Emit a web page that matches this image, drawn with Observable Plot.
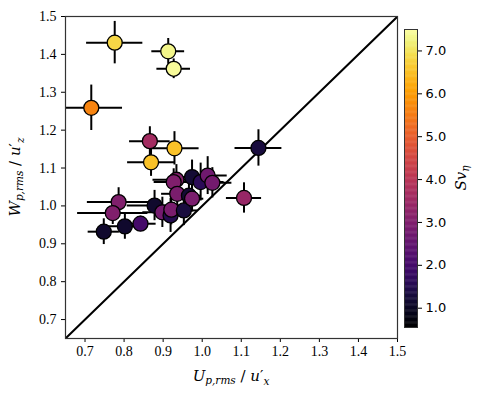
<!DOCTYPE html>
<html><head><meta charset="utf-8">
<script src="https://cdn.jsdelivr.net/npm/d3@7"></script>
<script src="https://cdn.jsdelivr.net/npm/@observablehq/plot@0.6"></script>
<style>
body{margin:0;background:#fff;}
#wrap{position:relative;width:485px;height:399px;}
#wrap svg{position:absolute;top:0;left:0;overflow:visible;}
</style></head><body><div id="wrap"></div>
<script>
const xVals = [0.776,0.913,0.927,0.716,0.866,0.929,0.869,1.144,1.107,0.786,0.771,0.748,0.802,0.842,0.878,0.898,0.919,0.921,0.953,0.934,0.927,0.936,0.974,0.996,1.014,1.026,0.966,0.974];
const yVals = [1.431,1.408,1.362,1.259,1.171,1.152,1.115,1.153,1.021,1.010,0.981,0.932,0.946,0.953,1.001,0.983,0.975,0.990,0.988,1.069,1.063,1.032,1.076,1.063,1.080,1.061,1.027,1.019];
const xErr  = [0.072,0.042,0.043,0.080,0.052,0.063,0.060,0.060,0.045,0.080,0.090,0.040,0.050,0.040,0.070,0.050,0.040,0.040,0.035,0.060,0.050,0.040,0.050,0.060,0.050,0.050,0.030,0.030];
const yErr  = [0.056,0.034,0.026,0.060,0.038,0.044,0.037,0.048,0.040,0.038,0.030,0.034,0.034,0.020,0.040,0.040,0.045,0.040,0.040,0.040,0.035,0.040,0.045,0.050,0.050,0.040,0.040,0.035];
const svVals = [6.8,7.3,7.4,5.6,3.6,6.5,6.5,1.3,3.4,3.0,3.0,1.1,1.1,2.0,1.1,2.8,1.5,2.9,1.3,3.1,3.0,2.9,1.2,1.6,2.7,2.8,1.2,2.9];

const axisDomain = [0.65, 1.5];
const diagonal = [0.65, 1.5];
const xTicks = [0.7,0.8,0.9,1.0,1.1,1.2,1.3,1.4,1.5];
const yTicks = [0.7,0.8,0.9,1.0,1.1,1.2,1.3,1.4,1.5];
const colorDomain = [0.55, 7.5];
const cbTicks = [1,2,3,4,5,6,7];

const data = xVals.map((x,i)=>({x, y:yVals[i], xe:xErr[i], ye:yErr[i], sv:svVals[i]}));
const color = {type:"linear", scheme:"inferno", domain: colorDomain};

const main = Plot.plot({
  width:485, height:399, marginLeft:65, marginRight:88, marginTop:16, marginBottom:61,
  style:{fontSize:"14px", background:"transparent", color:"#000"},
  x:{domain:axisDomain, ticks:xTicks, tickFormat:".1f", label:null, tickSize:4, tickPadding:4},
  y:{domain:axisDomain, ticks:yTicks, tickFormat:".1f", label:null, tickSize:4, tickPadding:5},
  color,
  marks:[
    Plot.line(diagonal, {x:d=>d, y:d=>d, stroke:"black", strokeWidth:2, clip:true}),
    Plot.ruleY(data, {y:"y", x1:d=>d.x-d.xe, x2:d=>d.x+d.xe, stroke:"black", strokeWidth:2, clip:true}),
    Plot.ruleX(data, {x:"x", y1:d=>d.y-d.ye, y2:d=>d.y+d.ye, stroke:"black", strokeWidth:2, clip:true}),
    Plot.dot(data, {x:"x", y:"y", r:7.5, fill:"sv", stroke:"black", strokeWidth:1.3}),
    Plot.frame({stroke:"#333", strokeWidth:1.2})
  ]
});

const bands = d3.range(colorDomain[0], colorDomain[1], 0.02);
const cb = Plot.plot({
  width:85, height:399, marginLeft:4, marginRight:68, marginTop:29, marginBottom:72,
  style:{fontSize:"13px", background:"transparent", color:"#000"},
  x:{domain:[0,1], axis:null},
  y:{domain:colorDomain, axis:"right", ticks:cbTicks, tickFormat:".1f", label:null, tickSize:4, tickPadding:4},
  color,
  marks:[
    Plot.rect(bands, {x1:()=>0, x2:()=>1, y1:d=>d, y2:d=>Math.min(d+0.03, colorDomain[1]), fill:d=>d}),
    Plot.frame({stroke:"#333", strokeWidth:1})
  ]
});
cb.style.left = "400px";

const wrap = document.getElementById("wrap");
wrap.appendChild(main);
wrap.appendChild(cb);

// tick-label fonts: serif (LaTeX-like) on the main axes, sans on the colorbar
d3.select(main).selectAll("text").style("font-family", "'Liberation Serif', serif").style("font-size", "14px");
d3.select(cb).selectAll("text").style("font-family", "'DejaVu Sans', sans-serif").style("font-size", "13px");

function mathLabel(svg, x, y, rot, parts, size) {
  const t = d3.select(svg).append("text")
    .attr("transform", `translate(${x},${y}) rotate(${rot})`)
    .attr("text-anchor", "middle")
    .style("font-family", "'DejaVu Serif', serif")
    .style("font-size", size + "px")
    .attr("fill", "#000");
  parts.forEach(p => {
    t.append("tspan").text(p.t)
      .style("font-style", p.i ? "italic" : "normal")
      .style("font-size", (p.s ? size*0.7 : size) + "px")
      .attr("dy", p.dy || 0);
  });
}
mathLabel(main, 231, 381, 0, [
  {t:"U", i:1}, {t:"p,rms", i:1, s:1, dy:3}, {t:" / ", dy:-3}, {t:"u", i:1}, {t:"′", s:0, dy:0}, {t:"x", i:1, s:1, dy:4}
], 15);
mathLabel(main, 20, 177, -90, [
  {t:"W", i:1}, {t:"p,rms", i:1, s:1, dy:3}, {t:" / ", dy:-3}, {t:"u", i:1}, {t:"′", s:0, dy:0}, {t:"z", i:1, s:1, dy:4}
], 15);
mathLabel(cb, 66, 178, -90, [
  {t:"Sv", i:1}, {t:"η", i:1, s:1, dy:3}
], 15);
</script></body></html>
